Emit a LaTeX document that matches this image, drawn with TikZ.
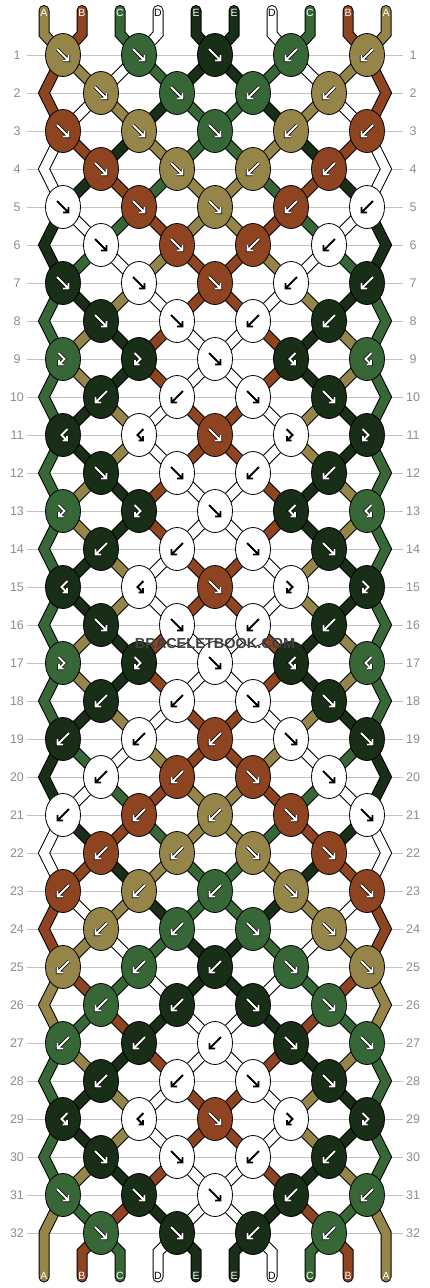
\documentclass[tikz,border=0pt]{standalone}
\usepackage{fontspec}
\setmainfont{Liberation Sans}
\usetikzlibrary{shapes.geometric}

\definecolor{colA}{RGB}{150,133,72}
\definecolor{colB}{RGB}{142,68,32}
\definecolor{colC}{RGB}{55,103,55}
\definecolor{colD}{RGB}{255,255,255}
\definecolor{colE}{RGB}{24,46,22}
\definecolor{guidegray}{RGB}{192,192,192}
\definecolor{numgray}{RGB}{140,140,140}
\colorlet{txtA}{white}\colorlet{txtB}{white}\colorlet{txtC}{white}
\colorlet{txtD}{black}\colorlet{txtE}{white}

\tikzset{
  strand/.style={draw=black, line width=1pt, double=#1, double distance=9pt,
    line join=miter, line cap=round},
  knot/.style={ellipse, draw=black, line width=0.8pt, fill=#1,
    minimum width=35pt, minimum height=43pt, inner sep=0pt},
  lightarrow/.style={draw=black, line width=0.8pt, double=white,
    double distance=1.8pt, line join=miter},
  darkarrow/.style={draw=black, line width=1.8pt, line join=miter},
  arrA/.style={lightarrow}, arrB/.style={lightarrow}, arrC/.style={lightarrow},
  arrD/.style={darkarrow}, arrE/.style={lightarrow},
  endlabel/.style={font=\fontsize{10.5}{10.5}\selectfont, inner sep=0pt},
  rownum/.style={text=numgray, font=\fontsize{12.5}{12.5}\selectfont},
  guide/.style={draw=guidegray, line width=1pt},
  brand/.style={text=black!75, font=\bfseries\fontsize{14.5}{14.5}\selectfont}
}

% knot arrows: #1 knot, #2 flip (1 or -1), #3 style
\newcommand\straightmark[3]{%
  \draw[#3, shift={(#1.center)}, xscale=#2]
    (-6,-6) -- (5.5,5.5) (0,5.5) -- (5.5,5.5) -- (5.5,0);}
\newcommand\hookmark[3]{%
  \draw[#3, shift={(#1.center)}, xscale=#2]
    (-4.5,-6) -- (1.5,0) -- (-4,5.5) (0.5,5.5) -- (-4,5.5) -- (-4,1);}

\begin{document}
\begin{tikzpicture}[x=1pt, y=-1pt]
  \useasboundingbox (0,0) rectangle (430,1288);

  % row guides
  \foreach \r in {1,...,32}{
    \pgfmathsetmacro\yy{55+38*(\r-1)}
    \draw[guide] (27,\yy) -- (403,\yy);
    \node[rownum] (numL-\r) at (17,\yy) {\r};
    \node[rownum] (numR-\r) at (413,\yy) {\r};
  }

  % knot places, per row and string position
  \foreach \r in {1,...,32}{
    \foreach \p in {1,...,10}{
      \pgfmathsetmacro\yy{55+38*(\r-1)}
      \ifodd\r\relax
        \ifodd\p\relax \def\dx{19}\else \def\dx{-19}\fi
      \else
        \ifodd\p\relax \def\dx{-19}\else \def\dx{19}\fi
        \ifnum\p=1\relax \def\dx{0}\fi
        \ifnum\p=10\relax \def\dx{0}\fi
      \fi
      \pgfmathsetmacro\xx{44+38*(\p-1)+\dx}
      \coordinate (L-\r-\p) at (\xx,\yy);
      \coordinate (R-\r-\p) at ({430-\xx},\yy);
    }
  }
  \foreach \s in {1,...,5}{
    \pgfmathsetmacro\xx{44+38*(\s-1)}
    \coordinate (tL-\s) at (\xx,10.5);  \coordinate (tR-\s) at ({430-\xx},10.5);
    \coordinate (uL-\s) at (\xx,34);    \coordinate (uR-\s) at ({430-\xx},34);
    \coordinate (vL-\s) at (\xx,1252);  \coordinate (vR-\s) at ({430-\xx},1252);
    \coordinate (wL-\s) at (\xx,1277);  \coordinate (wR-\s) at ({430-\xx},1277);
  }

  % strings
  \foreach \side in {L,R}{
    \foreach \c/\s/\plist in {
        A/1/{2,3,4,5,5,4,3,2,2,3,3,2,2,3,3,2,2,3,4,5,5,4,3,2,1,1,2,3,3,2,1,1},
        B/2/{1,1,2,3,4,5,5,4,4,5,5,4,4,5,5,4,4,5,5,4,3,2,1,1,2,3,4,5,5,4,3,2},
        C/3/{4,5,5,4,3,2,1,1,1,1,1,1,1,1,1,1,1,1,2,3,4,5,5,4,3,2,1,1,1,1,2,3},
        D/4/{3,2,1,1,2,3,4,5,5,4,4,5,5,4,4,5,5,4,3,2,1,1,2,3,4,5,5,4,4,5,5,4},
        E/5/{5,4,3,2,1,1,2,3,3,2,2,3,3,2,2,3,3,2,1,1,2,3,4,5,5,4,3,2,2,3,4,5}}{
      \draw[strand=col\c] (t\side-\s) -- (u\side-\s)
        \foreach \p [count=\r] in \plist { -- (\side-\r-\p) }
        -- (v\side-\s) -- (w\side-\s);
    }
  }

  % knots: colour / 1 f, -1 b, 2 fb, -2 bf
  \foreach \r/\klist in {
      1/{A/1,C/1,E/1}, 2/{A/1,C/1}, 3/{B/1,A/1,C/1}, 4/{B/1,A/1},
      5/{D/1,B/1,A/1}, 6/{D/1,B/1}, 7/{E/1,D/1,B/1}, 8/{E/1,D/1},
      9/{C/2,E/2,D/1}, 10/{E/-1,D/-1}, 11/{E/-2,D/-2,B/1}, 12/{E/1,D/1},
      13/{C/2,E/2,D/1}, 14/{E/-1,D/-1}, 15/{E/-2,D/-2,B/1}, 16/{E/1,D/1},
      17/{C/2,E/2,D/1}, 18/{E/-1,D/-1}, 19/{E/-1,D/-1,B/-1}, 20/{D/-1,B/-1},
      21/{D/-1,B/-1,A/-1}, 22/{B/-1,A/-1}, 23/{B/-1,A/-1,C/-1}, 24/{A/-1,C/-1},
      25/{A/-1,C/-1,E/-1}, 26/{C/-1,E/-1}, 27/{C/-1,E/-1,D/-1}, 28/{E/-1,D/-1},
      29/{E/-2,D/-2,B/1}, 30/{E/1,D/1}, 31/{C/1,E/1,D/1}, 32/{C/1,E/1}}{
    \foreach \c/\t [count=\k] in \klist {
      \pgfmathtruncatemacro\p{2*\k-mod(\r,2)}
      \pgfmathtruncatemacro\km{5+mod(\r,2)-\k}
      \pgfmathtruncatemacro\sg{sign(\t)}
      \pgfmathtruncatemacro\msg{-\sg}
      \node[knot=col\c] (n-\r-\k) at (L-\r-\p) {};
      \ifodd\t\relax \straightmark{n-\r-\k}{\sg}{arr\c}
      \else \hookmark{n-\r-\k}{\sg}{arr\c}\fi
      \ifnum\k=\km\relax\else
        \node[knot=col\c] (n-\r-\km) at (R-\r-\p) {};
        \ifodd\t\relax \straightmark{n-\r-\km}{\msg}{arr\c}
        \else \hookmark{n-\r-\km}{\msg}{arr\c}\fi
      \fi
    }
  }

  % string names
  \foreach \c [count=\s] in {A,B,C,D,E}{
    \foreach \side in {L,R}{
      \node[endlabel, text=txt\c, anchor=base] (top\side-\s)
        at ([yshift=-6pt]t\side-\s) {\c};
      \node[endlabel, text=txt\c, anchor=base] (bot\side-\s)
        at ([yshift=-2.8pt]w\side-\s) {\c};
    }
  }

  \node[brand] (mark) at (215,643) {BRACELETBOOK.COM};
\end{tikzpicture}
\end{document}
